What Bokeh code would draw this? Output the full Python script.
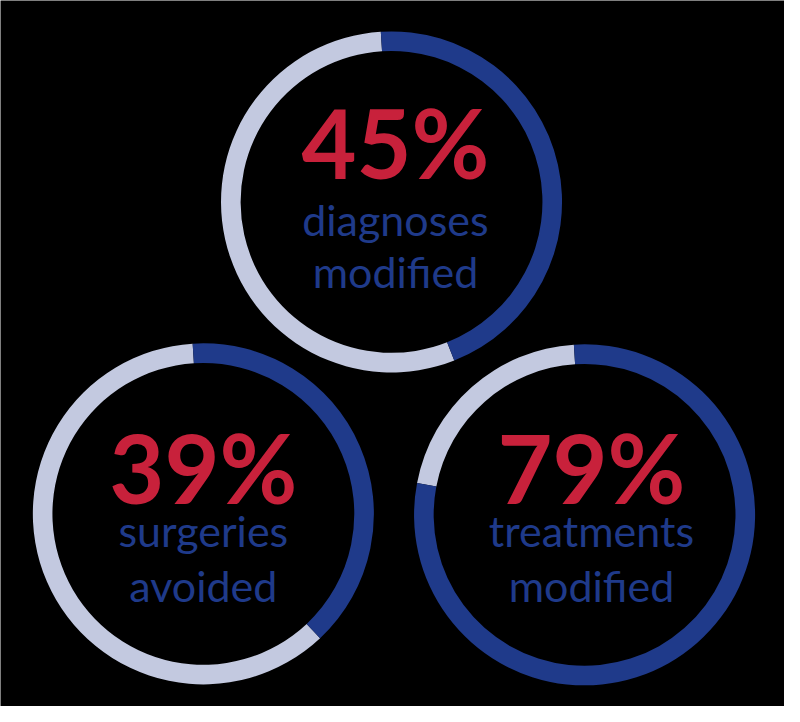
import math
from bokeh.plotting import figure
from bokeh.models import Range1d, ColumnDataSource
from bokeh.embed import file_html
from bokeh.resources import INLINE
from bokeh.core.properties import value

# ---- data ----
percent = [45, 39, 79]
labels_pct = ["45%", "39%", "79%"]
line1 = ["diagnoses", "surgeries", "treatments"]
line2 = ["modified", "avoided", "modified"]

# ---- layout (reference image pixel coordinates, 800 x 722) ----
cx = [399, 207, 596]
cy_img = [206, 525, 526]
R_OUT, R_IN = 174, 154
txt_dx = [4, 0, 7]
pct_base = [180, 513, 513]
l1_base = [240, 558, 558]
l2_base = [293, 615, 615]

DARK = "#1f3a8a"
LIGHT = "#c3c9e0"
RED = "#c8213b"

W, H = 784, 706
p = figure(width=W, height=H, output_backend="svg", toolbar_location=None,
           x_range=Range1d(0, 800), y_range=Range1d(0, 722),
           x_axis_type=None, y_axis_type=None, min_border=0)
p.grid.visible = False
p.outline_line_color = None
p.background_fill_color = "black"
p.border_fill_color = "black"

cy = [722 - v for v in cy_img]
top = math.pi / 2 + math.radians(3.6)
ends = [top - v / 100 * 2 * math.pi for v in percent]

src = ColumnDataSource(dict(
    x=cx, y=cy, start=ends, stop=[top] * 3, lstop=[e + 2 * math.pi for e in ends],
    tx=[a + b for a, b in zip(cx, txt_dx)],
    py=[722 - v for v in pct_base],
    y1=[722 - v for v in l1_base],
    y2=[722 - v for v in l2_base],
    pct=labels_pct, l1=line1, l2=line2,
))

p.annular_wedge(x="x", y="y", inner_radius=R_IN, outer_radius=R_OUT,
                start_angle="stop", end_angle="lstop", direction="anticlock",
                fill_color=LIGHT, line_color=None, source=src)
p.annular_wedge(x="x", y="y", inner_radius=R_IN, outer_radius=R_OUT,
                start_angle="start", end_angle="stop", direction="anticlock",
                fill_color=DARK, line_color=None, source=src)

p.text(x="tx", y="py", text="pct", source=src, text_align="center",
       text_baseline="alphabetic", text_font=value("Lato"), y_offset=-35,
       text_font_style="bold", text_font_size="95px", text_color=RED)
p.text(x="tx", y="y1", text="l1", source=src, text_align="center",
       text_baseline="alphabetic", text_font=value("Lato"), y_offset=-16,
       text_font_size="43px", text_color=DARK)
p.text(x="tx", y="y2", text="l2", source=src, text_align="center",
       text_baseline="alphabetic", text_font=value("Lato"), y_offset=-16,
       text_font_size="43px", text_color=DARK)

open("out.html", "w").write(file_html(p, INLINE))
